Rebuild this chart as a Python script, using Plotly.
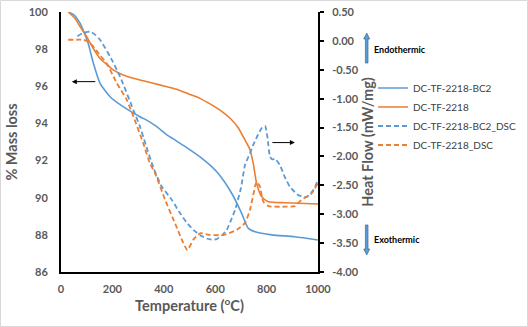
import plotly.graph_objects as go

# ---- data ----
temp_bc2 = [28, 50, 74, 90, 106, 126, 152, 191, 242, 307, 333, 370, 411, 450, 489, 541, 580, 612, 664, 703, 729, 755, 820, 910, 1000]
mass_bc2 = [100, 99.85, 99.4, 98.9, 98.3, 97.24, 96.16, 95.44, 94.9, 94.36, 94.18, 93.85, 93.4, 93.05, 92.7, 92.2, 91.75, 91.3, 90.24, 89.16, 88.35, 88.17, 88.0, 87.9, 87.72]

temp_2218 = [28, 54, 75, 100, 125, 152, 180, 203, 240, 281, 320, 359, 400, 450, 495, 541, 580, 620, 660, 690, 716, 735, 748, 761, 781, 807, 872, 1000]
mass_2218 = [100, 99.66, 99.2, 98.67, 98.05, 97.5, 97.15, 96.88, 96.62, 96.43, 96.3, 96.16, 96.02, 95.84, 95.6, 95.35, 95.05, 94.7, 94.25, 93.75, 93.1, 92.6, 91.85, 90.78, 90.05, 89.78, 89.73, 89.66]

temp_bc2_dsc = [64, 87, 113, 135, 152, 191, 230, 282, 307, 330, 360, 392, 431, 463, 490, 515, 540, 567, 590, 606, 625, 645, 660, 677,
                700, 716, 735, 748, 767, 781, 794, 803, 813, 822, 833, 852, 870, 890, 923, 956, 982, 1000]
dsc_bc2 = [0.08, 0.14, 0.16, 0.10, 0.02, -0.27, -0.62, -1.2, -1.48, -1.8, -2.2, -2.52, -2.75, -2.98, -3.15, -3.27, -3.36, -3.42, -3.44, -3.43, -3.37, -3.27, -3.12, -2.93,
           -2.55, -2.15, -1.95, -1.8, -1.62, -1.51, -1.47, -1.66, -2.0, -2.05, -2.04, -2.15, -2.35, -2.52, -2.67, -2.70, -2.58, -2.41]

temp_2218_dsc = [28, 60, 87, 110, 130, 152, 178, 217, 256, 282, 320, 346, 366, 405, 444, 476, 492, 515, 541, 580, 632, 684, 716, 735, 755, 761, 774, 787, 807, 872, 910, 936, 975, 1000]
dsc_2218 = [0.02, 0.02, 0.02, -0.02, -0.12, -0.25, -0.39, -0.73, -1.02, -1.31, -1.77, -2.12, -2.29, -2.75, -3.16, -3.50, -3.62, -3.44, -3.33, -3.36, -3.36, -3.27, -3.15, -2.93, -2.52, -2.44, -2.52, -2.78, -2.86, -2.87, -2.86, -2.75, -2.64, -2.46]

names = ["DC-TF-2218-BC2", "DC-TF-2218", "DC-TF-2218-BC2_DSC", "DC-TF-2218_DSC"]

y2_tickvals = [0.5, 0.0, -0.5, -1.0, -1.5, -2.0, -2.5, -3.0, -3.5, -4.0]
y2_ticktext = ["0.50", "0.00", "-0.50", "-1.00", "-1.50", "-2.00", "-2.50", "-3.00", "-3.50", "-4.00"]

BLUE = "#5B9BD5"
ORANGE = "#ED7D31"
GRAY = "#595959"
FONT = "Lato"

W, H = 528, 327
ML, MR, MT, MB = 61, 210, 12, 55
PW, PH = W - ML - MR, H - MT - MB

def px_x(px):
    return (px - ML) / PW

def px_y(py):
    return (H - MB - py) / PH

fig = go.Figure()
fig.add_trace(go.Scatter(x=temp_bc2, y=mass_bc2, name=names[0], mode="lines",
                         line=dict(color=BLUE, width=1.6, shape="spline", smoothing=0.6)))
fig.add_trace(go.Scatter(x=temp_2218, y=mass_2218, name=names[1], mode="lines",
                         line=dict(color=ORANGE, width=1.6, shape="spline", smoothing=0.6)))
fig.add_trace(go.Scatter(x=temp_bc2_dsc, y=dsc_bc2, name=names[2], mode="lines", yaxis="y2",
                         line=dict(color=BLUE, width=1.8, dash="5px,3px", shape="spline", smoothing=0.5)))
fig.add_trace(go.Scatter(x=temp_2218_dsc, y=dsc_2218, name=names[3], mode="lines", yaxis="y2",
                         line=dict(color=ORANGE, width=1.8, dash="5px,3px", shape="spline", smoothing=0.5)))

tickfont = dict(family=FONT, size=11, color=GRAY, weight="bold")
titlefont = dict(family=FONT, size=14.5, color=GRAY, weight="bold")

fig.update_layout(
    width=W, height=H,
    margin=dict(l=ML, r=MR, t=MT, b=MB, autoexpand=False),
    paper_bgcolor="white", plot_bgcolor="white",
    showlegend=True,
    legend=dict(x=px_x(373), y=px_y(73.5), xanchor="left", yanchor="top",
                font=dict(family=FONT, size=10, color="#404040"),
                bgcolor="rgba(0,0,0,0)", tracegroupgap=0, itemwidth=30),
    xaxis=dict(range=[0, 1000], dtick=200, tick0=0, showgrid=False, zeroline=False,
               showline=True, linecolor="black", linewidth=2, ticks="",
               tickfont=tickfont, ticklabelstandoff=6,
               title=dict(text="Temperature (<sup>o</sup>C)", font=titlefont, standoff=6)),
    yaxis=dict(range=[86, 100], dtick=2, tick0=86, showgrid=False, zeroline=False,
               showline=True, linecolor="black", linewidth=2, ticks="",
               tickfont=tickfont, ticklabelstandoff=9,
               title=dict(text="% Mass loss", font=titlefont, standoff=8)),
    yaxis2=dict(range=[-4, 0.5], overlaying="y", side="right", showgrid=False, zeroline=False,
                tickvals=y2_tickvals, ticktext=y2_ticktext,
                showline=True, linecolor="black", linewidth=2, ticks="outside", ticklen=4,
                tickcolor="black", tickwidth=1.5,
                tickfont=tickfont, ticklabelstandoff=6,
                title=dict(text="Heat Flow (mW/mg)", font=titlefont, standoff=4)),
)

# chart border
fig.add_shape(type="rect", xref="paper", yref="paper",
              x0=px_x(0.5), x1=px_x(527.5), y0=px_y(326.5), y1=px_y(0.5),
              line=dict(color="#D9D9D9", width=1), fillcolor="rgba(0,0,0,0)", layer="below")

# block arrows (endo / exo)
def up_arrow(xc, ytop, ybot):
    sw, hw, hh = 1.3, 3.0, 6
    pts = [(xc - sw, ybot), (xc - sw, ytop + hh), (xc - hw, ytop + hh), (xc, ytop),
           (xc + hw, ytop + hh), (xc + sw, ytop + hh), (xc + sw, ybot)]
    return "M " + " L ".join(f"{px_x(a):.5f},{px_y(b):.5f}" for a, b in pts) + " Z"

def down_arrow(xc, ytop, ybot):
    sw, hw, hh = 1.3, 3.0, 6
    pts = [(xc - sw, ytop), (xc - sw, ybot - hh), (xc - hw, ybot - hh), (xc, ybot),
           (xc + hw, ybot - hh), (xc + sw, ybot - hh), (xc + sw, ytop)]
    return "M " + " L ".join(f"{px_x(a):.5f},{px_y(b):.5f}" for a, b in pts) + " Z"

fig.add_shape(type="path", xref="paper", yref="paper", path=up_arrow(366.7, 33, 63),
              fillcolor=BLUE, line=dict(color="#41719C", width=0.75))
fig.add_shape(type="path", xref="paper", yref="paper", path=down_arrow(366.7, 225, 255),
              fillcolor=BLUE, line=dict(color="#41719C", width=0.75))

annfont = dict(family=FONT, size=9, color="black", weight="bold")
fig.add_annotation(text="Endothermic", xref="paper", yref="paper", x=px_x(372), y=px_y(49),
                   xanchor="left", yanchor="middle", showarrow=False, font=annfont)
fig.add_annotation(text="Exothermic", xref="paper", yref="paper", x=px_x(372), y=px_y(239),
                   xanchor="left", yanchor="middle", showarrow=False, font=annfont)

# small black pointer arrows
fig.add_annotation(x=42, y=96.25, xref="x", yref="y", ax=25, ay=0, text="",
                   showarrow=True, arrowhead=2, arrowsize=1, arrowwidth=1, arrowcolor="black")
fig.add_annotation(x=910, y=-1.76, xref="x", yref="y2", ax=-24, ay=0, text="",
                   showarrow=True, arrowhead=2, arrowsize=1, arrowwidth=1, arrowcolor="black")

fig.write_html("out.html")
